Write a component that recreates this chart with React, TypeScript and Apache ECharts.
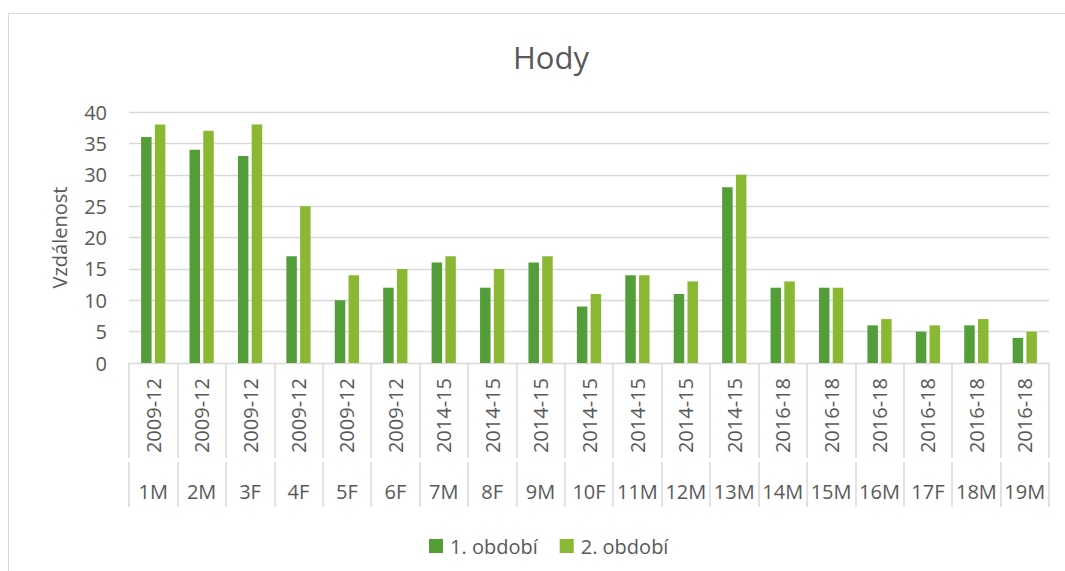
import React, { useEffect, useRef } from "react";
import * as echarts from "echarts";

const categories = ["1M", "2M", "3F", "4F", "5F", "6F", "7M", "8F", "9M", "10F", "11M", "12M", "13M", "14M", "15M", "16M", "17F", "18M", "19M"];
const periods = ["2009-12", "2009-12", "2009-12", "2009-12", "2009-12", "2009-12", "2014-15", "2014-15", "2014-15", "2014-15", "2014-15", "2014-15", "2014-15", "2016-18", "2016-18", "2016-18", "2016-18", "2016-18", "2016-18"];
const period1 = [36, 34, 33, 17, 10, 12, 16, 12, 16, 9, 14, 11, 28, 12, 12, 6, 5, 6, 4];
const period2 = [38, 37, 38, 25, 14, 15, 17, 15, 17, 11, 14, 13, 30, 13, 12, 7, 6, 7, 5];
const seriesNames = ["1. období", "2. období"];
const titleText = "Hody";
const yAxisName = "Vzdálenost";

const FONT = "'Open Sans', 'Noto Sans', sans-serif";
const TEXT = "#595959";
const LINE = "#d9d9d9";

export default function App() {
  const ref = useRef<HTMLDivElement>(null);
  useEffect(() => {
    if (!ref.current) return;
    const chart = echarts.init(ref.current, null, { renderer: "svg" });
    chart.setOption({
      animation: false,
      backgroundColor: "#ffffff",
      textStyle: { fontFamily: FONT, color: TEXT },
      title: {
        text: titleText,
        left: 546,
        top: 36,
        textAlign: "center",
        textStyle: { fontFamily: FONT, fontSize: 31, fontWeight: "normal", color: TEXT },
      },
      graphic: [
        {
          type: "rect",
          shape: { x: 8.5, y: 13.5, width: 1100, height: 600 },
          style: { fill: "none", stroke: LINE, lineWidth: 1 },
          silent: true,
        },
      ],
      legend: {
        data: seriesNames,
        left: 424,
        top: 531,
        itemWidth: 14,
        itemHeight: 14,
        itemGap: 22,
        icon: "rect",
        textStyle: { fontFamily: FONT, fontSize: 20, color: TEXT, padding: [0, 0, 0, 2] },
      },
      grid: {
        left: 129,
        right: 16,
        top: 112,
        bottom: 208,
        containLabel: false,
        outerBoundsMode: "none",
      },
      xAxis: [
        {
          type: "category",
          data: periods,
          position: "bottom",
          axisLine: { show: true, lineStyle: { color: LINE, width: 1 } },
          axisTick: { show: true, interval: 0, length: 95, lineStyle: { color: LINE, width: 1.5 } },
          axisLabel: {
            interval: 0,
            rotate: 90,
            margin: 15,
            fontFamily: FONT,
            fontSize: 20,
            color: TEXT,
          },
        },
        {
          type: "category",
          data: categories,
          position: "bottom",
          offset: 99,
          axisLine: { show: false },
          axisTick: { show: true, interval: 0, length: 45, lineStyle: { color: LINE, width: 1.5 } },
          axisLabel: {
            interval: 0,
            margin: 19,
            fontFamily: FONT,
            fontSize: 20,
            color: TEXT,
          },
        },
      ],
      yAxis: {
        type: "value",
        min: 0,
        max: 40,
        interval: 5,
        name: yAxisName,
        nameLocation: "middle",
        nameGap: 60,
        nameTextStyle: { fontFamily: FONT, fontSize: 20, color: TEXT },
        axisLine: { show: false },
        axisTick: { show: false },
        axisLabel: { margin: 22, fontFamily: FONT, fontSize: 20, color: TEXT },
        splitLine: { show: true, lineStyle: { color: LINE, width: 1.3 } },
      },
      series: [
        {
          name: seriesNames[0],
          type: "bar",
          data: period1,
          barWidth: 10.5,
          barGap: "31%",
          itemStyle: { color: "#549E39" },
        },
        {
          name: seriesNames[1],
          type: "bar",
          data: period2,
          barWidth: 10.5,
          barGap: "31%",
          itemStyle: { color: "#8AB833" },
        },
      ],
    });
    return () => chart.dispose();
  }, []);
  return (
    <div
      ref={ref}
      style={{ position: "absolute", left: 0, top: 0, width: 1065, height: 571 }}
    />
  );
}
